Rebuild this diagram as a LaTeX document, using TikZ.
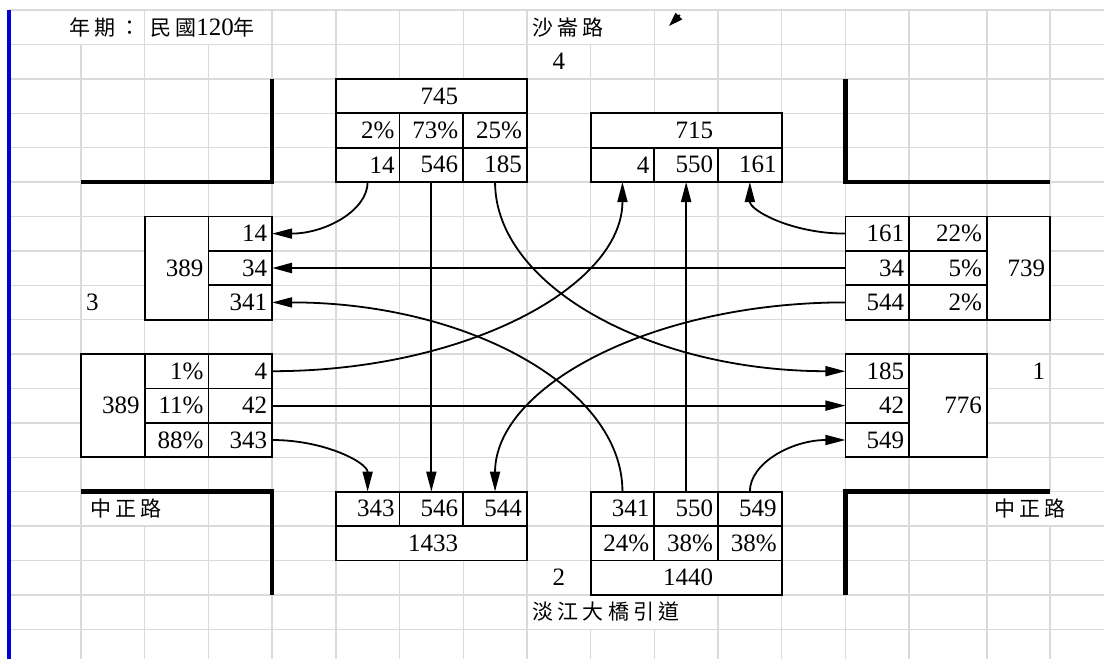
\documentclass[tikz,border=0pt]{standalone}
\usepackage{fontspec}
\setmainfont{Liberation Serif}
\newfontfamily\cjk{Noto Sans CJK TC}
\usepackage{tikz}
\usetikzlibrary{arrows.meta, positioning}
\definecolor{mygrid}{RGB}{218,218,218}
\definecolor{myblue}{RGB}{0,0,215}
\newcommand{\valfont}{\fontsize{12.5}{14}\selectfont}
\tikzset{
  val/.style={rectangle, minimum height=17.2pt, inner xsep=2.5pt, inner ysep=0pt,
    outer sep=0pt, text width=26.85pt, align=right, font=\valfont},
  cell/.style={val, draw=black, fill=white, line width=0.9pt},
  wideval/.style={val, text width=33.9pt},
  widecell/.style={cell, text width=33.9pt},
  frame/.style={draw=black, fill=white, line width=0.9pt},
  lbl/.style={inner sep=0pt, font=\cjk\fontsize{10.5}{12}\selectfont\addfontfeature{LetterSpace=20}},
  road/.style={line width=2.3pt, color=black},
  gridline/.style={line width=0.7pt, color=mygrid},
  arrow/.style={-{Triangle[length=10pt,width=5pt]}, line width=0.9pt, color=black}
}
\begin{document}
\begin{tikzpicture}[x=31.85pt, y=-17.2pt]
  \useasboundingbox (-1.2716,-0.2907) rectangle (16.0597,18.8663);

  \foreach \j in {0,...,18}
    \draw[gridline] (-1.13,\j) -- (16.06,\j);
  \foreach \i in {3,4,5,6,7,10,11,12,13,14.22}
    \draw[gridline] (\i,0) -- (\i,18.87);
  \foreach \i in {0,2}
    \draw[gridline] (\i,1) -- (\i,18.87);
  \draw[gridline] (1,0) -- (1,14) (1,15) -- (1,18.87);
  \draw[gridline] (8,1) -- (8,17) (8,18) -- (8,18.87);
  \draw[gridline] (9,0) -- (9,17) (9,18) -- (9,18.87);
  \draw[gridline] (15.21,0) -- (15.21,14) (15.21,15) -- (15.21,18.87);
  \draw[line width=1.75pt, myblue] (-1.13,0) -- (-1.13,18.87);

  \draw[road] (0,5) -- (3,5) -- (3,2);
  \draw[road] (12,2) -- (12,5) -- (15.21,5);
  \draw[road] (0,14) -- (3,14) -- (3,17);
  \draw[road] (12,17) -- (12,14) -- (15.21,14);

  \draw[frame] (4,2) rectangle (7,3);
  \node[val] (tot4in) at (5.5,2.5) {745};
  \node[cell] (p4r) at (4.5,3.5) {2\%};
  \node[cell, right=0pt of p4r] (p4t) {73\%};
  \node[cell, right=0pt of p4t] (p4l) {25\%};
  \node[cell, below=0pt of p4r] (in4r) {14};
  \node[cell, right=0pt of in4r] (in4t) {546};
  \node[cell, right=0pt of in4t] (in4l) {185};

  \draw[frame] (8,3) rectangle (11,4);
  \node[val] (tot4out) at (9.5,3.5) {715};
  \node[cell] (out4w) at (8.5,4.5) {4};
  \node[cell, right=0pt of out4w] (out4s) {550};
  \node[cell, right=0pt of out4s] (out4e) {161};

  \draw[frame] (1,6) rectangle (3,9);
  \node[val] (tot3out) at (1.5,7.5) {389};
  \node[cell] (out3n) at (2.5,6.5) {14};
  \node[cell, below=0pt of out3n] (out3e) {34};
  \node[cell, below=0pt of out3e] (out3s) {341};

  \draw[frame] (0,10) rectangle (3,13);
  \node[val] (tot3in) at (0.5,11.5) {389};
  \node[cell] (p3l) at (1.5,10.5) {1\%};
  \node[cell, below=0pt of p3l] (p3t) {11\%};
  \node[cell, below=0pt of p3t] (p3r) {88\%};
  \node[cell, right=0pt of p3l] (in3l) {4};
  \node[cell, right=0pt of p3t] (in3t) {42};
  \node[cell, right=0pt of p3r] (in3r) {343};

  \draw[frame] (12,6) rectangle (15.21,9);
  \node[cell] (in1r) at (12.5,6.5) {161};
  \node[cell, below=0pt of in1r] (in1t) {34};
  \node[cell, below=0pt of in1t] (in1l) {544};
  \node[widecell, right=0pt of in1r] (p1r) {22\%};
  \node[widecell, right=0pt of in1t] (p1t) {5\%};
  \node[widecell, right=0pt of in1l] (p1l) {2\%};
  \node[val] (tot1in) at (14.715,7.5) {739};

  \draw[frame] (12,10) rectangle (14.22,13);
  \node[cell] (out1n) at (12.5,10.5) {185};
  \node[cell, below=0pt of out1n] (out1w) {42};
  \node[cell, below=0pt of out1w] (out1s) {549};
  \node[wideval] (tot1out) at (13.61,11.5) {776};

  \node[cell] (out2w) at (4.5,14.5) {343};
  \node[cell, right=0pt of out2w] (out2n) {546};
  \node[cell, right=0pt of out2n] (out2e) {544};
  \draw[frame] (4,15) rectangle (7,16);
  \node[val] (tot2out) at (5.5,15.5) {1433};

  \node[cell] (in2l) at (8.5,14.5) {341};
  \node[cell, right=0pt of in2l] (in2t) {550};
  \node[cell, right=0pt of in2t] (in2r) {549};
  \node[cell, below=0pt of in2l] (p2l) {24\%};
  \node[cell, right=0pt of p2l] (p2t) {38\%};
  \node[cell, right=0pt of p2t] (p2r) {38\%};
  \draw[frame] (8,16) rectangle (11,17);
  \node[val] (tot2in) at (9.5,16.5) {1440};

  \node[lbl, anchor=east] (year) at (0.94,0.5) {年期：};
  \node[lbl, anchor=west] (yearval) at (1.08,0.5) {民國{\rmfamily\valfont 120}年};
  \node[lbl, anchor=west] (rdnorth) at (7.08,0.5) {沙崙路};
  \node[val, align=center] (leg4) at (7.5,1.5) {4};
  \node[val, align=left] (leg3) at (0.5,8.5) {3};
  \node[val] (leg1) at (14.715,10.5) {1};
  \node[lbl, anchor=west] (rdwest) at (0.14,14.5) {中正路};
  \node[lbl, anchor=west] (rdeast) at (14.33,14.5) {中正路};
  \node[val, align=center] (leg2) at (7.5,16.5) {2};
  \node[lbl, anchor=west] (rdsouth) at (7.08,17.5) {淡江大橋引道};

  \draw[arrow] (in4r.south) to[out=-90, in=0, out distance=14.3pt, in distance=26.5pt] (out3n.east);
  \draw[arrow] (in4t.south) -- (out2n.north);
  \draw[arrow] (in4l.south) to[out=-90, in=180, out distance=52.2pt, in distance=96.9pt] (out1n.west);
  \draw[arrow] (in1r.west) to[out=180, in=-90, out distance=26.5pt, in distance=14.3pt] (out4e.south);
  \draw[arrow, line width=1.3pt] (in1t.west) -- (out3e.east);
  \draw[arrow] (in1l.west) to[out=180, in=90, out distance=96.9pt, in distance=52.4pt] (out2e.north);
  \draw[arrow] (in3l.east) to[out=0, in=-90, out distance=96.8pt, in distance=52.2pt] (out4w.south);
  \draw[arrow] (in3t.east) -- (out1w.west);
  \draw[arrow] (in3r.east) to[out=0, in=90, out distance=26.5pt, in distance=14.4pt] (out2w.north);
  \draw[arrow] (in2l.north) to[out=90, in=0, out distance=52.4pt, in distance=96.9pt] (out3s.east);
  \draw[arrow] (in2t.north) -- (out4s.south);
  \draw[arrow] (in2r.north) to[out=90, in=180, out distance=14.4pt, in distance=26.5pt] (out1s.west);

  \coordinate (stray0) at (9.403,0.145);
  \coordinate (stray1) at (9.231,0.465);
  \draw[arrow, -{Triangle[length=7pt,width=4.5pt]}] (stray0) -- (stray1);
\end{tikzpicture}
\end{document}
